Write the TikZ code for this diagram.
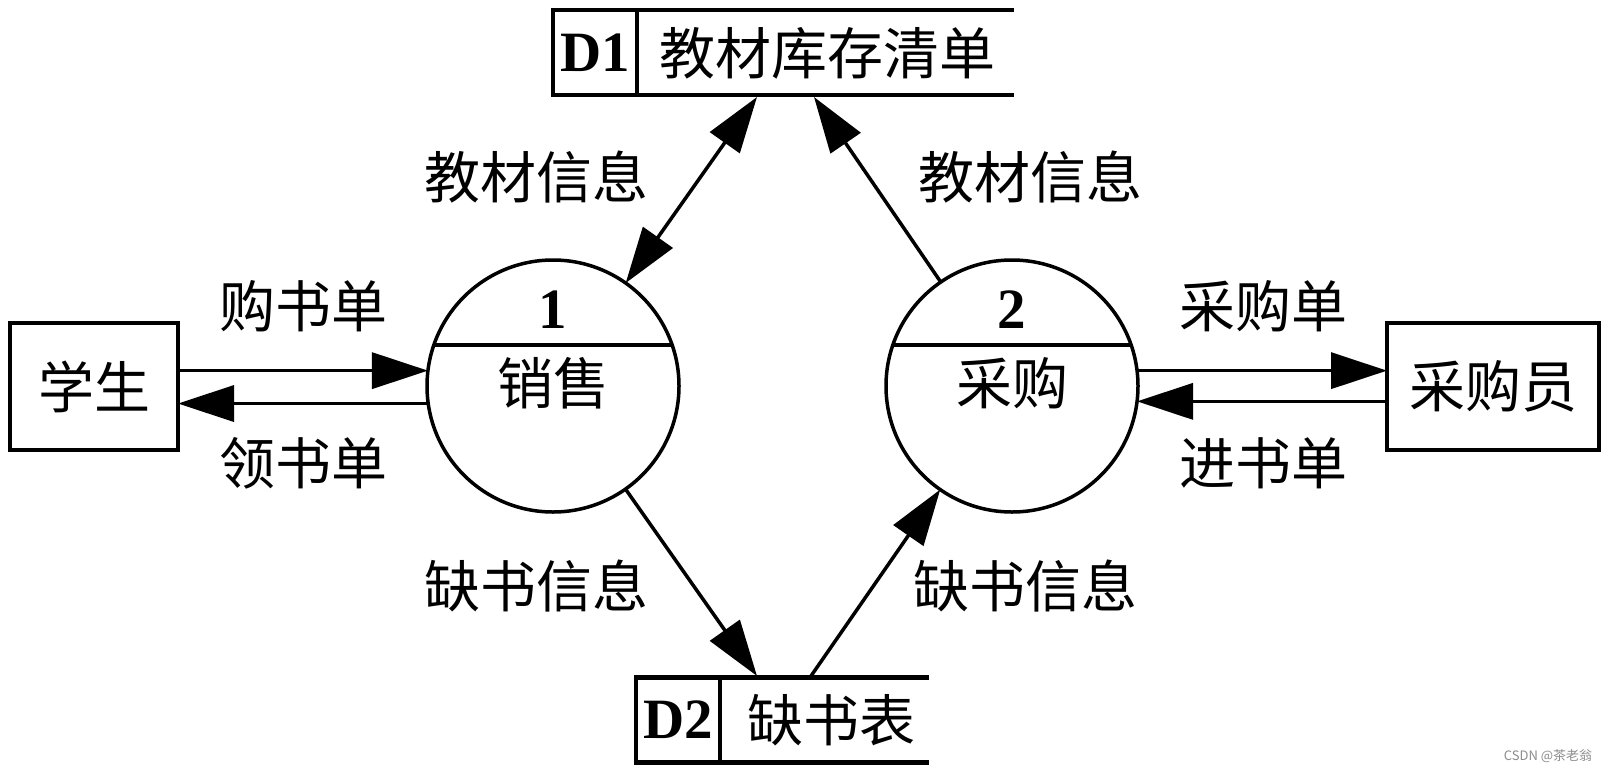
\documentclass[tikz,border=0pt]{standalone}
\usepackage{fontspec}
\setmainfont{Liberation Serif}
\newfontfamily\cjk{Noto Sans CJK SC}
\usetikzlibrary{arrows.meta}
\begin{document}
\begin{tikzpicture}[x=1pt,y=-1pt,
  every node/.style={inner sep=0pt, outer sep=0pt},
  lbl/.style={font=\cjk\fontsize{56}{62}\selectfont},
  num/.style={font=\bfseries\fontsize{57}{62}\selectfont},
  proc/.style={draw, circle, line width=3.5pt, minimum size=252pt},
  ext/.style={draw, rectangle, line width=4pt, minimum height=127pt},
  store/.style={rectangle, minimum height=85pt},
  sline/.style={line width=4.5pt},
  flow/.style={line width=3.5pt, -{Triangle[length=56pt,width=36pt]}},
  bflow/.style={line width=3.5pt, {Triangle[length=56pt,width=36pt]}-{Triangle[length=56pt,width=36pt]}},
  wm/.style={font=\cjk\fontsize{13}{15}\selectfont, text=black!45}
]
\path[fill=white] (0,0) rectangle (1610,774);
\useasboundingbox (0,0) rectangle (1610,774);

% external entities
\node[ext, lbl, minimum width=168pt] (stu) at (94,386.5) {学生};
\node[ext, lbl, minimum width=212pt] (buy) at (1493,386.5) {采购员};

% processes
\node[proc] (p1) at (553,386) {};
\node[proc] (p2) at (1012,386) {};
\draw[line width=4pt] (p1.161) -- (p1.19);
\draw[line width=4pt] (p2.161) -- (p2.19);
\node[num] (p1n) at (553,310) {1};
\node[lbl] (p1t) at (553,383) {销售};
\node[num] (p2n) at (1012,310) {2};
\node[lbl] (p2t) at (1012,383) {采购};

% data stores
\node[store, minimum width=461pt] (d1) at (783.5,52.5) {};
\draw[sline] (d1.north east) -- (d1.north west) -- (d1.south west) -- (d1.south east);
\draw[sline] ([xshift=84pt]d1.north west) -- ([xshift=84pt]d1.south west);
\node[num] (d1id) at (595,53) {D1};
\node[lbl] (d1t) at (827,53) {教材库存清单};

\node[store, minimum width=293pt] (d2) at (782.5,720) {};
\draw[sline] (d2.north east) -- (d2.north west) -- (d2.south west) -- (d2.south east);
\draw[sline] ([xshift=84pt]d2.north west) -- ([xshift=84pt]d2.south west);
\node[num] (d2id) at (678,720) {D2};
\node[lbl] (d2t) at (831,720) {缺书表};

% connector end points on stores
\coordinate (d1a) at (757,97);
\coordinate (d1b) at (814,97);
\coordinate (d2a) at (757,676);
\coordinate (d2b) at (811,676);

% flows
\draw[bflow] (p1) -- (d1a);
\draw[flow] (p2) -- (d1b);
\draw[flow] (p1) -- (d2a);
\draw[flow] (d2b) -- (p2);

\draw[flow] (stu.east |- p1.173) -- (p1.173);
\draw[flow] (p1.188) -- (stu.east |- p1.188);
\draw[flow] (p2.7) -- (buy.west |- p2.7);
\draw[flow] (buy.west |- p2.353) -- (p2.353);

% labels
\node[lbl] (l1) at (303,306) {购书单};
\node[lbl] (l2) at (303,463) {领书单};
\node[lbl] (l3) at (1263,306) {采购单};
\node[lbl] (l4) at (1263,463) {进书单};
\node[lbl] (l5) at (536,177) {教材信息};
\node[lbl] (l6) at (1030,177) {教材信息};
\node[lbl] (l7) at (536,586) {缺书信息};
\node[lbl] (l8) at (1025,586) {缺书信息};

\node[wm] (mark) at (1548,756) {CSDN @茶老翁};
\end{tikzpicture}
\end{document}
